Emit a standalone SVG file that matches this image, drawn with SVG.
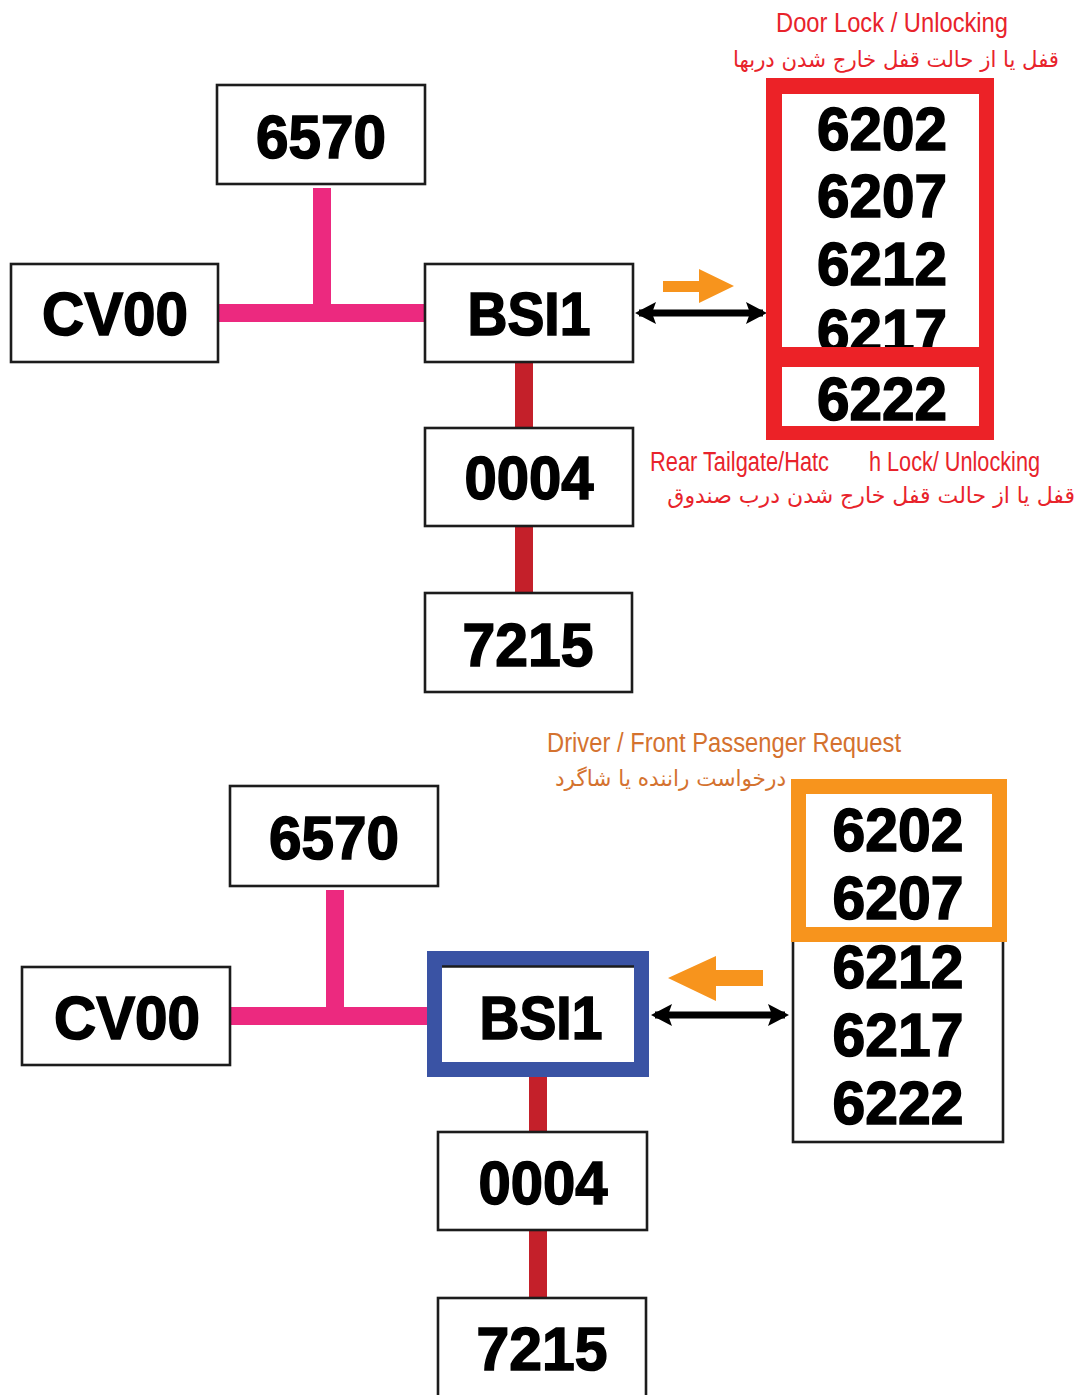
<svg xmlns="http://www.w3.org/2000/svg" width="1084" height="1395" viewBox="0 0 1084 1395">
<style>
  .box { fill: #ffffff; stroke: #1c1c1c; stroke-width: 2.6; }
  .num { font-family: "Liberation Sans", Arial, sans-serif; font-weight: bold; font-size: 62px; fill: #000; stroke: #000; stroke-width: 1.6; text-anchor: middle; }
  .pink { fill: #ec297f; }
  .red { fill: #c4202a; }
  .lbl-red { font-family: "Liberation Sans", Arial, sans-serif; font-size: 27px; fill: #e8232b; }
  .lbl-org { font-family: "Liberation Sans", Arial, sans-serif; font-size: 27px; fill: #d4722f; }
  .fa-red { font-family: "DejaVu Sans", "Noto Sans", sans-serif; font-size: 22px; fill: #e8232b; }
  .fa-org { font-family: "DejaVu Sans", "Noto Sans", sans-serif; font-size: 22px; fill: #d4722f; }
  .dbl { stroke: #000; stroke-width: 7; fill: none; marker-start: url(#head); marker-end: url(#head); }
  .orange { fill: #f7941d; }
</style>
<defs>
  <marker id="head" viewBox="0 0 21 22" refX="17" refY="11" markerWidth="21" markerHeight="22" markerUnits="userSpaceOnUse" orient="auto-start-reverse">
    <path d="M0,0 L21,11 L0,22 L4,11 Z" fill="#000"/>
  </marker>
</defs>
<rect width="1084" height="1395" fill="#ffffff"/>

<!-- connectors -->
<g id="connectors">
  <!-- top diagram -->
  <rect class="pink" x="313" y="188" width="18" height="124"/>
  <rect class="pink" x="218" y="304" width="207" height="18"/>
  <rect class="red" x="515" y="362" width="18" height="66"/>
  <rect class="red" x="515" y="526" width="18" height="67"/>
  <line class="dbl" x1="639" y1="313" x2="763" y2="313"/>
  <polygon class="orange" points="663,281 699,281 699,269 734,286 699,303 699,292 663,292"/>
  <!-- bottom diagram -->
  <rect class="pink" x="326" y="890" width="18" height="118"/>
  <rect class="pink" x="230" y="1007" width="197" height="18"/>
  <rect class="red" x="529" y="1077" width="18" height="55"/>
  <rect class="red" x="529" y="1230" width="18" height="68"/>
  <line class="dbl" x1="655" y1="1015" x2="785" y2="1015"/>
  <polygon class="orange" points="763,970 716,970 716,956 668,978 716,1001 716,986 763,986"/>
</g>

<!-- top diagram nodes -->
<g id="top-6570">
  <rect class="box" x="217" y="85" width="208" height="99"/>
  <text class="num" x="321" y="158" textLength="130" lengthAdjust="spacingAndGlyphs">6570</text>
</g>
<g id="top-CV00">
  <rect class="box" x="11" y="264" width="207" height="98"/>
  <text class="num" x="115" y="335" textLength="146" lengthAdjust="spacingAndGlyphs">CV00</text>
</g>
<g id="top-BSI1">
  <rect class="box" x="425" y="264" width="208" height="98"/>
  <text class="num" x="529" y="335" textLength="123" lengthAdjust="spacingAndGlyphs">BSI1</text>
</g>
<g id="top-0004">
  <rect class="box" x="425" y="428" width="208" height="98"/>
  <text class="num" x="529" y="499" textLength="129" lengthAdjust="spacingAndGlyphs">0004</text>
</g>
<g id="top-7215">
  <rect class="box" x="425" y="593" width="207" height="99"/>
  <text class="num" x="528" y="666" textLength="131" lengthAdjust="spacingAndGlyphs">7215</text>
</g>
<g id="top-list">
  <rect x="766" y="78" width="228" height="362" fill="#ec2227"/>
  <rect x="782" y="94" width="197" height="253" fill="#ffffff"/>
  <rect x="782" y="367" width="197" height="59" fill="#ffffff"/>
  <text class="num" x="882" y="150" textLength="130" lengthAdjust="spacingAndGlyphs">6202</text>
  <text class="num" x="882" y="217" textLength="130" lengthAdjust="spacingAndGlyphs">6207</text>
  <text class="num" x="882" y="285" textLength="130" lengthAdjust="spacingAndGlyphs">6212</text>
  <text class="num" x="882" y="352" textLength="130" lengthAdjust="spacingAndGlyphs">6217</text>
  <rect x="766" y="347" width="228" height="20" fill="#ec2227"/>
  <text class="num" x="882" y="420" textLength="130" lengthAdjust="spacingAndGlyphs">6222</text>
</g>
<g id="top-labels">
  <text class="lbl-red" x="776" y="32" textLength="232" lengthAdjust="spacingAndGlyphs">Door Lock / Unlocking</text>
  <text class="fa-red" x="1059" y="67" direction="rtl" text-anchor="start" textLength="326" lengthAdjust="spacingAndGlyphs">قفل یا از حالت قفل خارج شدن دربها</text>
  <text class="lbl-red" y="471"><tspan x="650" textLength="179" lengthAdjust="spacingAndGlyphs">Rear Tailgate/Hatc</tspan><tspan x="869" textLength="171" lengthAdjust="spacingAndGlyphs">h Lock/ Unlocking</tspan></text>
  <text class="fa-red" x="1075" y="503" direction="rtl" text-anchor="start" font-size="20.8">قفل یا از حالت قفل خارج شدن درب صندوق</text>
</g>

<!-- bottom diagram nodes -->
<g id="bot-6570">
  <rect class="box" x="230" y="786" width="208" height="100"/>
  <text class="num" x="334" y="859" textLength="130" lengthAdjust="spacingAndGlyphs">6570</text>
</g>
<g id="bot-CV00">
  <rect class="box" x="22" y="967" width="208" height="98"/>
  <text class="num" x="127" y="1039" textLength="146" lengthAdjust="spacingAndGlyphs">CV00</text>
</g>
<g id="bot-BSI1">
  <rect x="434.5" y="958.5" width="207" height="111" fill="#ffffff" stroke="#3a53a4" stroke-width="15"/>
  <line x1="442" y1="966.5" x2="634" y2="966.5" stroke="#1c1c1c" stroke-width="2.6"/>
  <text class="num" x="541" y="1039" textLength="123" lengthAdjust="spacingAndGlyphs">BSI1</text>
</g>
<g id="bot-0004">
  <rect class="box" x="438" y="1132" width="209" height="98"/>
  <text class="num" x="543" y="1204" textLength="129" lengthAdjust="spacingAndGlyphs">0004</text>
</g>
<g id="bot-7215">
  <rect class="box" x="438" y="1298" width="208" height="110"/>
  <text class="num" x="542" y="1370" textLength="131" lengthAdjust="spacingAndGlyphs">7215</text>
</g>
<g id="bot-list">
  <rect class="box" x="793" y="930" width="210" height="212"/>
  <rect x="798.5" y="786.5" width="201" height="148" fill="#ffffff" stroke="#f7941d" stroke-width="15"/>
  <text class="num" x="898" y="851" textLength="131" lengthAdjust="spacingAndGlyphs">6202</text>
  <text class="num" x="898" y="919" textLength="131" lengthAdjust="spacingAndGlyphs">6207</text>
  <text class="num" x="898" y="988" textLength="131" lengthAdjust="spacingAndGlyphs">6212</text>
  <text class="num" x="898" y="1056" textLength="131" lengthAdjust="spacingAndGlyphs">6217</text>
  <text class="num" x="898" y="1124" textLength="131" lengthAdjust="spacingAndGlyphs">6222</text>
</g>
<g id="bot-labels">
  <text class="lbl-org" x="547" y="752" textLength="354" lengthAdjust="spacingAndGlyphs">Driver / Front Passenger Request</text>
  <text class="fa-org" x="786" y="786" direction="rtl" text-anchor="start" textLength="231" lengthAdjust="spacingAndGlyphs">درخواست راننده یا  شاگرد</text>
</g>
</svg>
